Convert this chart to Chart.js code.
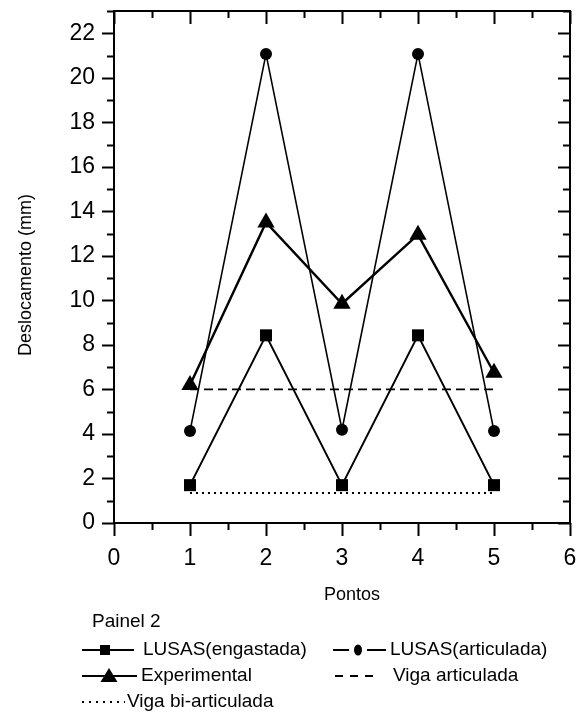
<!DOCTYPE html>
<html>
<head>
<meta charset="utf-8">
<script src="https://cdn.jsdelivr.net/npm/chart.js@4.4.1/dist/chart.umd.min.js"></script>
<style>
  html, body { margin:0; padding:0; background:#fff; }
  #wrap { width:581px; height:712px; }
</style>
</head>
<body>
<div id="wrap"><canvas id="chart" width="581" height="712"></canvas></div>
<script>
// ── Data ───────────────────────────────────────────
const PONTOS = [1, 2, 3, 4, 5];
const LUSAS_ENGASTADA = [1.7, 8.43, 1.7, 8.43, 1.7];
const LUSAS_ARTICULADA = [4.13, 21.07, 4.19, 21.07, 4.13];
const EXPERIMENTAL = [6.2, 13.5, 9.85, 12.95, 6.75];
const VIGA_X = [1, 5];
const VIGA_ARTICULADA = [6.0, 6.0];
const VIGA_BI_ARTICULADA = [1.35, 1.35];

const X_MIN = 0, X_MAX = 6;
const Y_MIN = 0, Y_MAX = 23;

const FONT = "'Liberation Sans', Arial, Helvetica, sans-serif";

const pts = (xs, ys) => xs.map((x, i) => ({ x, y: ys[i] }));

// no label-overflow padding: the frame is placed by layout padding alone
const noPad = s => { s.paddingTop = s.paddingBottom = s.paddingLeft = s.paddingRight = 0; };

// ── Frame, ticks, titles, legend ───────────────────
const decor = {
  id: "decor",
  afterDatasetsDraw(chart) {
    const { ctx, chartArea: a, scales } = chart;
    const sx = scales.x, sy = scales.y;
    ctx.save();
    ctx.strokeStyle = "#000";
    ctx.lineWidth = 2;
    ctx.strokeRect(a.left, a.top, a.right - a.left, a.bottom - a.top);

    // y ticks: left outward, right inward
    for (let v = Y_MIN; v <= Y_MAX; v++) {
      const py = Math.round(sy.getPixelForValue(v)) + 0.5;
      const len = v % 2 === 0 ? 12 : 7;
      ctx.beginPath();
      ctx.moveTo(a.left - len, py); ctx.lineTo(a.left, py);
      ctx.moveTo(a.right - len, py); ctx.lineTo(a.right, py);
      ctx.stroke();
    }
    // x ticks: bottom outward, top inward
    for (let v = X_MIN; v <= X_MAX; v += 0.5) {
      const px = Math.round(sx.getPixelForValue(v)) + 0.5;
      const len = Number.isInteger(v) ? 13 : 7;
      ctx.beginPath();
      ctx.moveTo(px, a.bottom); ctx.lineTo(px, a.bottom + len);
      ctx.moveTo(px, a.top); ctx.lineTo(px, a.top + len);
      ctx.stroke();
    }

    // axis titles
    ctx.fillStyle = "#000";
    ctx.font = "18px " + FONT;
    ctx.textAlign = "center";
    ctx.textBaseline = "middle";
    ctx.fillText("Pontos", 352, 595);
    ctx.save();
    ctx.translate(26, 275);
    ctx.rotate(-Math.PI / 2);
    ctx.fillText("Deslocamento (mm)", 0, 0);
    ctx.restore();

    // legend
    ctx.font = "19px " + FONT;
    ctx.textAlign = "left";
    ctx.fillText("Painel 2", 92, 622);

    const line = (x1, x2, y, w, dash) => {
      ctx.save();
      ctx.lineWidth = w;
      ctx.setLineDash(dash || []);
      ctx.beginPath(); ctx.moveTo(x1, y); ctx.lineTo(x2, y); ctx.stroke();
      ctx.restore();
    };
    let y = 650;
    line(82, 134, y, 2);
    ctx.fillRect(100, y - 5, 10, 10);
    ctx.fillText("LUSAS(engastada)", 143, y);

    line(333, 386, y, 2);
    ctx.clearRect(349, y - 3, 18, 6);
    ctx.beginPath(); ctx.ellipse(358, y, 4, 5.5, 0, 0, Math.PI * 2); ctx.fill();
    ctx.fillText("LUSAS(articulada)", 390, y);

    y = 676;
    line(82, 137, y, 2);
    ctx.beginPath();
    ctx.moveTo(109, y - 8); ctx.lineTo(117.5, y + 6); ctx.lineTo(100.5, y + 6);
    ctx.closePath(); ctx.fill();
    ctx.fillText("Experimental", 141, y);

    line(335, 373, y, 2, [8, 7]);
    ctx.fillText("Viga articulada", 393, y);

    y = 702;
    line(82, 125, y, 2, [2, 5]);
    ctx.fillText("Viga bi-articulada", 127, y);
    ctx.restore();
  }
};

new Chart(document.getElementById("chart"), {
  type: "scatter",
  data: {
    datasets: [
      {
        label: "LUSAS(engastada)",
        data: pts(PONTOS, LUSAS_ENGASTADA),
        showLine: true,
        borderColor: "#000",
        backgroundColor: "#000",
        borderWidth: 2,
        pointStyle: "rect",
        pointRadius: 8.5,
        pointBorderWidth: 0,
      },
      {
        label: "LUSAS(articulada)",
        data: pts(PONTOS, LUSAS_ARTICULADA),
        showLine: true,
        borderColor: "#000",
        backgroundColor: "#000",
        borderWidth: 1.6,
        pointStyle: "circle",
        pointRadius: 6,
        pointBorderWidth: 0,
      },
      {
        label: "Experimental",
        data: pts(PONTOS, EXPERIMENTAL),
        showLine: true,
        borderColor: "#000",
        backgroundColor: "#000",
        borderWidth: 2.4,
        pointStyle: "triangle",
        pointRadius: 10,
        pointBorderWidth: 0,
      },
      {
        label: "Viga articulada",
        data: pts(VIGA_X, VIGA_ARTICULADA),
        showLine: true,
        borderColor: "#000",
        borderWidth: 1.8,
        borderDash: [9, 5],
        pointRadius: 0,
      },
      {
        label: "Viga bi-articulada",
        data: pts(VIGA_X, VIGA_BI_ARTICULADA),
        showLine: true,
        borderColor: "#000",
        borderWidth: 2,
        borderDash: [2, 4],
        pointRadius: 0,
      },
    ],
  },
  options: {
    responsive: false,
    animation: false,
    devicePixelRatio: 1,
    layout: { padding: { top: 11, right: 11, left: 0, bottom: 0 } },
    plugins: { legend: { display: false }, tooltip: { enabled: false } },
    scales: {
      x: {
        type: "linear",
        min: X_MIN, max: X_MAX,
        grid: { display: false, drawTicks: false },
        border: { display: false },
        ticks: { stepSize: 1, includeBounds: false, color: "#000", padding: 22, font: { family: FONT, size: 23 } },
        afterFit: s => { s.height = 189; noPad(s); },
      },
      y: {
        type: "linear",
        min: Y_MIN, max: Y_MAX,
        grid: { display: false, drawTicks: false },
        border: { display: false },
        ticks: { stepSize: 2, includeBounds: false, color: "#000", padding: 19, font: { family: FONT, size: 23 } },
        afterFit: s => { s.width = 114; noPad(s); },
      },
    },
  },
  plugins: [decor],
});
</script>
</body>
</html>
